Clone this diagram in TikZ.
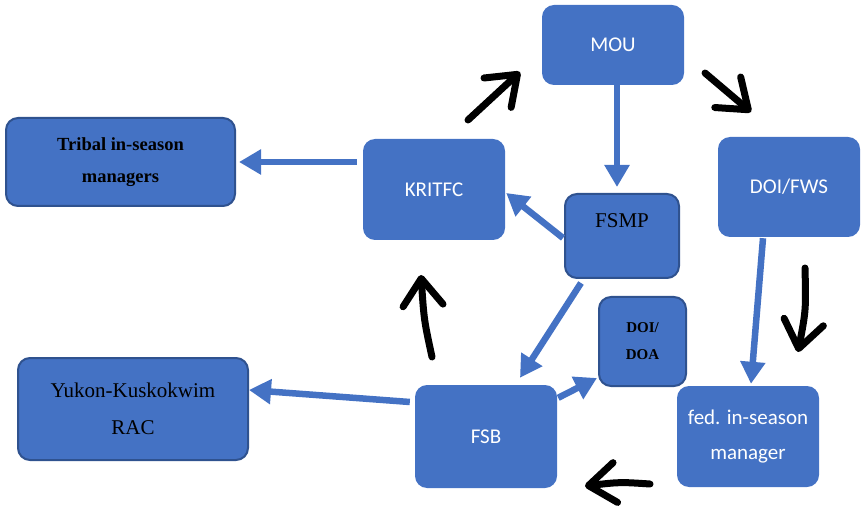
\documentclass[tikz,border=0pt]{standalone}
\usepackage{fontspec}
\setmainfont{Liberation Serif}
\newfontfamily\calfont{Carlito}
\usetikzlibrary{arrows.meta}
\definecolor{bfill}{HTML}{4472C4}
\definecolor{bborder}{HTML}{2F528F}
\tikzset{
  box/.style={fill=bfill, rounded corners=12pt, inner sep=0pt, align=center},
  calbox/.style={box, text=white, font=\calfont\fontsize{21}{35}\selectfont},
  serbox/.style={box, draw=bborder, line width=2pt, text=black},
  barrow/.style={draw=bfill, line width=6.5pt, -{Triangle[length=22pt,width=24pt]}},
  karrow/.style={draw=black, line width=7pt, line cap=round,
    -{Straight Barb[length=27pt,width=40pt,round]}},
}
\begin{document}
\begin{tikzpicture}[x=1pt,y=-1pt]
\useasboundingbox (0,0) rectangle (861,510);
% nodes
\node[calbox, minimum width=142pt, minimum height=80pt] (mou) at (613,45) {MOU};
\node[calbox, minimum width=142pt, minimum height=101pt] (kritfc) at (434,189.5) {KRITFC};
\node[serbox, minimum width=229pt, minimum height=88pt,
  font=\bfseries\fontsize{18.5}{32}\selectfont] (tribal) at (120.5,162) {Tribal in-season\\managers};
\node[serbox, minimum width=114pt, minimum height=84pt,
  font=\fontsize{21}{25}\selectfont] (fsmp) at (622,236) {\raisebox{30pt}{FSMP}};
\node[calbox, minimum width=142pt, minimum height=100pt] (fws) at (789,187) {DOI/FWS};
\node[serbox, minimum width=87pt, minimum height=89pt,
  font=\bfseries\fontsize{15}{27}\selectfont] (doa) at (642.5,341.5) {DOI/\\DOA};
\node[serbox, minimum width=230pt, minimum height=102pt,
  font=\fontsize{21}{37}\selectfont] (yukon) at (133,409) {Yukon-Kuskokwim\\RAC};
\node[calbox, minimum width=142pt, minimum height=103pt] (fsb) at (486,436.5) {FSB};
\node[calbox, minimum width=142pt, minimum height=101pt] (fed) at (748,436.5) {fed. in-season\\manager};
% blue connectors
\draw[barrow] ([xshift=-6pt]kritfc.west |- tribal.east) -- ([xshift=3pt]tribal.east);
\draw[barrow] ([xshift=4pt]mou.south) -- ([xshift=-5pt,yshift=6pt]fsmp.north);
\draw[barrow] ([xshift=-1pt,yshift=-2pt]fsmp.west) -- ([xshift=1pt,yshift=-3.5pt]kritfc.east);
\draw[barrow] ([xshift=-41pt,yshift=-4pt]fsmp.south) -- ([xshift=34pt,yshift=7pt]fsb.north);
\draw[barrow] ([xshift=-26pt,yshift=-1pt]fws.south) -- ([xshift=3pt,yshift=2pt]fed.north);
\draw[barrow] ([xshift=1pt,yshift=-13pt]fsb.north east) -- ([xshift=-1pt,yshift=9pt]doa.south west);
\draw[barrow] ([xshift=-5pt,yshift=34.5pt]fsb.west) -- ([yshift=19pt]yukon.east);
% black hand-drawn arrows
\coordinate (k1a) at (468,120); \coordinate (k1b) at (520,72);
\coordinate (k2a) at (705,73);  \coordinate (k2b) at (751,112);
\coordinate (k3a) at (805,268); \coordinate (k3b) at (798,352);
\coordinate (k4a) at (650,484); \coordinate (k4b) at (585,486);
\coordinate (k5a) at (432,357); \coordinate (k5b) at (421,275);
\draw[karrow] (k1a) -- (k1b);
\draw[karrow] (k2a) -- (k2b);
\draw[karrow] (k3a) .. controls (806,310) .. (k3b);
\draw[karrow] (k4a) .. controls (620,482) .. (k4b);
\draw[karrow] (k5a) .. controls (424,320) .. (k5b);
\end{tikzpicture}
\end{document}
